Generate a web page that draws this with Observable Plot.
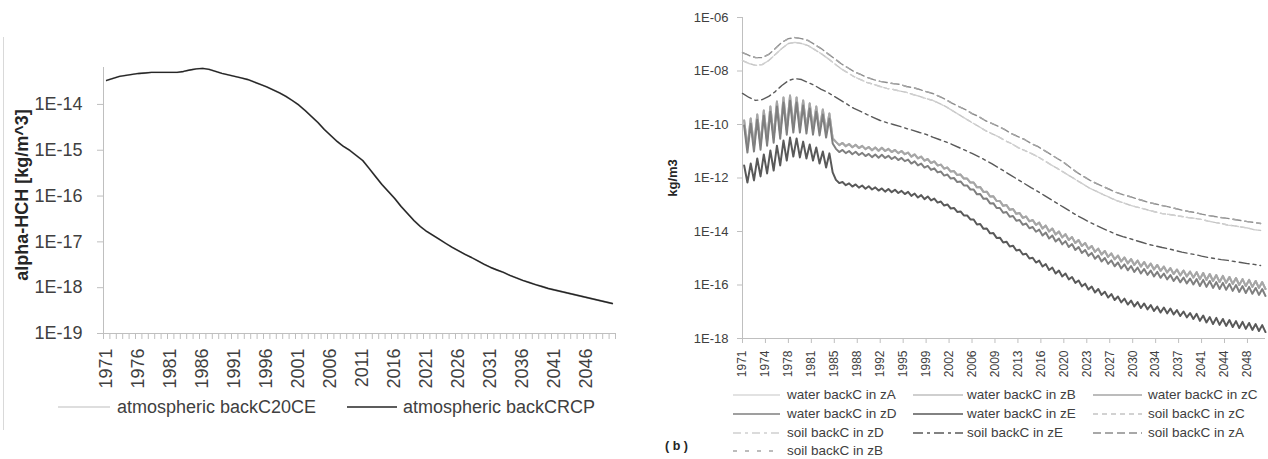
<!DOCTYPE html>
<html><head><meta charset="utf-8">
<script src="https://cdn.jsdelivr.net/npm/d3@7"></script>
<script src="https://cdn.jsdelivr.net/npm/@observablehq/plot@0.6"></script>
<style>
html,body{margin:0;padding:0;background:#fff;}
#root{position:relative;width:1268px;height:459px;overflow:hidden;font-family:"Liberation Sans",Arial,sans-serif;color:#404040;background:#fff;}
.abs{position:absolute;}
</style></head><body><div id="root"></div>
<script>
// ---------- DATA ----------
const years = [1971,1972,1973,1974,1975,1976,1977,1978,1979,1980,1981,1982,1983,1984,1985,1986,1987,1988,1989,1990,
1991,1992,1993,1994,1995,1996,1997,1998,1999,2000,2001,2002,2003,2004,2005,2006,2007,2008,2009,2010,
2011,2012,2013,2014,2015,2016,2017,2018,2019,2020,2021,2022,2023,2024,2025,2026,2027,2028,2029,2030,
2031,2032,2033,2034,2035,2036,2037,2038,2039,2040,2041,2042,2043,2044,2045,2046,2047,2048,2049,2050];

// panel (a): alpha-HCH, kg/m^3
const atmCRCP = [3.34e-14,3.70e-14,4.09e-14,4.30e-14,4.52e-14,4.75e-14,4.87e-14,5.00e-14,5.00e-14,5.00e-14,
5.00e-14,5.00e-14,5.25e-14,5.66e-14,5.96e-14,6.11e-14,5.81e-14,5.25e-14,4.75e-14,4.41e-14,
4.09e-14,3.79e-14,3.51e-14,3.10e-14,2.73e-14,2.41e-14,2.07e-14,1.78e-14,1.50e-14,1.22e-14,
9.75e-15,7.40e-15,5.47e-15,4.05e-15,2.85e-15,2.11e-15,1.56e-15,1.21e-15,9.9e-16,7.70e-16,
5.99e-16,4.01e-16,2.68e-16,1.79e-16,1.26e-16,8.87e-17,5.93e-17,4.17e-17,2.93e-17,2.17e-17,
1.69e-17,1.38e-17,1.13e-17,9.23e-18,7.55e-18,6.33e-18,5.31e-18,4.56e-18,3.83e-18,3.21e-18,
2.76e-18,2.43e-18,2.15e-18,1.85e-18,1.63e-18,1.44e-18,1.30e-18,1.17e-18,1.06e-18,9.6e-19,
8.9e-19,8.26e-19,7.66e-19,7.11e-19,6.59e-19,6.11e-19,5.67e-19,5.26e-19,4.88e-19,4.52e-19];
// the 20CE run is indistinguishable from the RCP run in the picture
const atmC20CE = atmCRCP;
const seriesA = ["atmospheric backC20CE","atmospheric backCRCP"];
const xLabelsA = [1971,1976,1981,1986,1991,1996,2001,2006,2011,2016,2021,2026,2031,2036,2041,2046];
const yTicksA = [1e-19,1e-18,1e-17,1e-16,1e-15,1e-14];

// panel (b): log10 of kg/m3; water series oscillate yearly (annual high / low)
const waterUpperHi = [-9.85,-9.78,-9.63,-9.48,-9.33,-9.14,-8.99,-8.92,-8.99,-9.10,-9.21,-9.33,-9.44,-9.59,
-10.65,-10.69,-10.73,-10.76,-10.80,-10.84,-10.86,-10.87,-10.91,-10.95,-10.99,
-11.05,-11.12,-11.20,-11.29,-11.38,-11.50,-11.61,-11.74,-11.87,-12.02,
-12.17,-12.34,-12.51,-12.68,-12.86,-13.01,-13.16,-13.31,-13.44,-13.57,
-13.67,-13.78,-13.89,-14.00,-14.10,-14.21,-14.32,-14.43,-14.54,-14.64,
-14.73,-14.82,-14.90,-14.97,-15.03,-15.09,-15.14,-15.20,-15.25,-15.31,
-15.37,-15.42,-15.46,-15.50,-15.52,-15.55,-15.59,-15.63,-15.66,-15.70,
-15.74,-15.78,-15.81,-15.85,-15.89];
const waterUpperLo = [-10.86,-10.82,-10.75,-10.60,-10.49,-10.34,-10.19,-10.11,-10.11,-10.15,-10.19,-10.22,-10.30,-10.52,
-10.77,-10.81,-10.85,-10.88,-10.92,-10.96,-10.98,-10.99,-11.03,-11.07,-11.11,
-11.20,-11.27,-11.35,-11.44,-11.53,-11.65,-11.76,-11.89,-12.02,-12.17,
-12.35,-12.52,-12.69,-12.86,-13.04,-13.19,-13.34,-13.49,-13.62,-13.75,
-13.89,-14.00,-14.11,-14.22,-14.32,-14.43,-14.54,-14.65,-14.76,-14.86,
-14.95,-15.04,-15.12,-15.19,-15.25,-15.31,-15.36,-15.42,-15.47,-15.53,
-15.59,-15.64,-15.68,-15.72,-15.78,-15.81,-15.85,-15.89,-15.92,-15.96,
-16.00,-16.04,-16.07,-16.11,-16.15];
const waterZDHi = [-10.04,-9.97,-9.82,-9.67,-9.52,-9.33,-9.18,-9.11,-9.18,-9.29,-9.40,-9.52,-9.63,-9.78,
-10.91,-10.95,-10.99,-11.02,-11.06,-11.10,-11.12,-11.13,-11.17,-11.21,-11.25,
-11.31,-11.38,-11.46,-11.55,-11.64,-11.76,-11.87,-12.00,-12.13,-12.28,
-12.43,-12.60,-12.77,-12.94,-13.12,-13.27,-13.42,-13.57,-13.70,-13.83,
-13.93,-14.04,-14.15,-14.26,-14.36,-14.47,-14.58,-14.69,-14.80,-14.90,
-14.99,-15.08,-15.16,-15.23,-15.29,-15.35,-15.40,-15.46,-15.51,-15.57,
-15.63,-15.68,-15.72,-15.76,-15.78,-15.81,-15.85,-15.89,-15.92,-15.96,
-16.00,-16.04,-16.07,-16.11,-16.15];
const waterZDLo = [-11.05,-11.01,-10.94,-10.79,-10.68,-10.53,-10.38,-10.30,-10.30,-10.34,-10.38,-10.41,-10.49,-10.71,
-11.03,-11.07,-11.11,-11.14,-11.18,-11.22,-11.24,-11.25,-11.29,-11.33,-11.37,
-11.46,-11.53,-11.61,-11.70,-11.79,-11.91,-12.02,-12.15,-12.28,-12.43,
-12.61,-12.78,-12.95,-13.12,-13.30,-13.45,-13.60,-13.75,-13.88,-14.01,
-14.15,-14.26,-14.37,-14.48,-14.58,-14.69,-14.80,-14.91,-15.02,-15.12,
-15.21,-15.30,-15.38,-15.45,-15.51,-15.57,-15.62,-15.68,-15.73,-15.79,
-15.85,-15.90,-15.94,-15.98,-16.04,-16.07,-16.11,-16.15,-16.18,-16.22,
-16.26,-16.30,-16.33,-16.37,-16.41];
const waterZEHi = [-11.53,-11.46,-11.27,-11.12,-10.97,-10.79,-10.60,-10.49,-10.52,-10.64,-10.75,-10.86,-11.01,-11.08,
-12.07,-12.15,-12.20,-12.24,-12.28,-12.31,-12.35,-12.39,-12.41,-12.44,-12.48,
-12.52,-12.58,-12.64,-12.69,-12.77,-12.88,-12.99,-13.12,-13.25,-13.40,
-13.55,-13.72,-13.89,-14.06,-14.23,-14.38,-14.53,-14.68,-14.83,-14.98,
-15.09,-15.22,-15.35,-15.46,-15.57,-15.70,-15.83,-15.95,-16.06,-16.15,
-16.25,-16.34,-16.43,-16.51,-16.58,-16.64,-16.69,-16.75,-16.81,-16.84,
-16.88,-16.94,-16.99,-17.05,-17.08,-17.14,-17.20,-17.23,-17.27,-17.31,
-17.35,-17.38,-17.42,-17.46,-17.50];
const waterZELo = [-12.17,-12.09,-11.94,-11.83,-11.72,-11.53,-11.35,-11.20,-11.23,-11.27,-11.35,-11.46,-11.61,-11.79,
-12.19,-12.27,-12.32,-12.36,-12.40,-12.43,-12.47,-12.51,-12.53,-12.56,-12.60,
-12.67,-12.73,-12.79,-12.84,-12.92,-13.03,-13.14,-13.27,-13.40,-13.55,
-13.74,-13.90,-14.07,-14.24,-14.41,-14.56,-14.71,-14.86,-15.01,-15.16,
-15.31,-15.44,-15.57,-15.68,-15.79,-15.92,-16.05,-16.17,-16.28,-16.37,
-16.47,-16.56,-16.65,-16.73,-16.80,-16.86,-16.91,-16.97,-17.03,-17.06,
-17.10,-17.16,-17.21,-17.27,-17.34,-17.40,-17.46,-17.49,-17.53,-17.57,
-17.61,-17.64,-17.68,-17.72,-17.76];
const soilTop = [-7.31,-7.42,-7.50,-7.50,-7.38,-7.16,-6.93,-6.79,-6.75,-6.79,
-6.86,-7.01,-7.16,-7.35,-7.53,-7.72,-7.87,-8.02,-8.13,-8.24,
-8.32,-8.39,-8.43,-8.47,-8.50,-8.58,-8.62,-8.69,-8.77,-8.84,
-8.95,-9.07,-9.21,-9.33,-9.44,-9.59,-9.70,-9.85,-9.96,-10.07,
-10.19,-10.34,-10.45,-10.56,-10.71,-10.82,-10.97,-11.12,-11.27,-11.42,
-11.61,-11.79,-11.94,-12.09,-12.21,-12.32,-12.43,-12.54,-12.62,-12.69,
-12.77,-12.84,-12.92,-12.97,-13.03,-13.08,-13.14,-13.20,-13.25,-13.29,
-13.35,-13.40,-13.44,-13.48,-13.51,-13.55,-13.59,-13.63,-13.66,-13.70];
const soilMid = [-7.61,-7.72,-7.79,-7.76,-7.61,-7.38,-7.16,-6.97,-6.93,-6.97,
-7.05,-7.20,-7.35,-7.53,-7.72,-7.91,-8.06,-8.21,-8.32,-8.43,
-8.50,-8.58,-8.65,-8.69,-8.75,-8.80,-8.88,-8.95,-9.03,-9.10,
-9.21,-9.33,-9.48,-9.63,-9.78,-9.93,-10.07,-10.22,-10.34,-10.45,
-10.60,-10.71,-10.86,-10.97,-11.08,-11.20,-11.35,-11.50,-11.64,-11.79,
-11.94,-12.09,-12.24,-12.39,-12.50,-12.62,-12.73,-12.84,-12.92,-13.01,
-13.08,-13.14,-13.21,-13.27,-13.33,-13.36,-13.40,-13.44,-13.48,-13.51,
-13.55,-13.61,-13.66,-13.70,-13.76,-13.79,-13.83,-13.87,-13.93,-13.96];
const soilZE = [-8.84,-8.99,-9.10,-9.07,-8.95,-8.77,-8.54,-8.36,-8.28,-8.32,
-8.43,-8.54,-8.69,-8.80,-8.95,-9.10,-9.25,-9.40,-9.51,-9.63,
-9.74,-9.85,-9.93,-10.00,-10.07,-10.15,-10.22,-10.30,-10.37,-10.47,
-10.56,-10.65,-10.75,-10.86,-10.97,-11.08,-11.20,-11.33,-11.46,-11.61,
-11.76,-11.91,-12.06,-12.21,-12.36,-12.50,-12.65,-12.80,-12.95,-13.10,
-13.25,-13.40,-13.53,-13.66,-13.78,-13.89,-14.00,-14.11,-14.19,-14.26,
-14.34,-14.41,-14.49,-14.54,-14.60,-14.65,-14.71,-14.77,-14.82,-14.86,
-14.92,-14.97,-15.01,-15.05,-15.08,-15.12,-15.16,-15.20,-15.23,-15.27];
const xTicksB = [1971,1974.5,1978,1981.5,1985,1988.5,1992,1995.5,1999,2002.5,2006,2009.5,2013,2016.5,2020,2023.5,2027,2030.5,2034,2037.5,2041,2044.5,2048];
const xLabelsB = ["1971","1974","1978","1981","1985","1988","1992","1995","1999","2002","2006","2009","2013","2016","2020","2023","2027","2030","2034","2037","2041","2044","2048"];
const yTicksB = [1e-18,1e-16,1e-14,1e-12,1e-10,1e-8,1e-6];
const seriesB = ["water backC in zA","water backC in zB","water backC in zC","water backC in zD","water backC in zE",
  "soil backC in zC","soil backC in zD","soil backC in zE","soil backC in zA","soil backC in zB"];

// ---------- STYLES ----------
const FONT = '"Liberation Sans", Arial, sans-serif';
const TXT = "#404040", AX = "#bfbfbf";
const stylesA = {
  "atmospheric backC20CE": {stroke: "#bdbdbd", w: 1.9, lw: 1, dash: null},
  "atmospheric backCRCP": {stroke: "#262626", w: 1.4, lw: 1.4, dash: null}
};
const stylesB = {
  "water backC in zA": {stroke: "#d9d9d9", w: 2, dash: null},
  "water backC in zB": {stroke: "#bfbfbf", w: 2, dash: null},
  "water backC in zC": {stroke: "#a6a6a6", w: 2, dash: null},
  "water backC in zD": {stroke: "#7f7f7f", w: 2, dash: null},
  "water backC in zE": {stroke: "#595959", w: 2, dash: null},
  "soil backC in zC": {stroke: "#c4c4c4", w: 1.4, dash: "5,4"},
  "soil backC in zD": {stroke: "#d0d0d0", w: 1.4, dash: "8,4,3,4"},
  "soil backC in zE": {stroke: "#595959", w: 1.4, dash: "10,4,3,4"},
  "soil backC in zA": {stroke: "#8c8c8c", w: 1.4, dash: "8,4"},
  "soil backC in zB": {stroke: "#a6a6a6", w: 1.4, dash: "4,8"}
};

const fmtE = d => { const e = Math.round(Math.log10(d)); return "1E" + (e < 0 ? "-" : "+") + String(Math.abs(e)).padStart(2, "0"); };
const root = document.getElementById("root");

// ---------- PANEL A ----------
const tableA = [];
years.forEach((y, i) => {
  tableA.push({s: seriesA[0], x: y, v: atmC20CE[i]});
  tableA.push({s: seriesA[1], x: y, v: atmCRCP[i]});
});
const catBounds = years.map(y => y - 0.5).concat([years[years.length - 1] + 0.5]);
const plotA = Plot.plot({
  width: 630, height: 395, marginTop: 67, marginLeft: 103, marginRight: 15, marginBottom: 62,
  style: {fontFamily: FONT, fontSize: "18px", color: TXT, background: "transparent", overflow: "visible"},
  x: {type: "linear", domain: [catBounds[0], catBounds[catBounds.length - 1]], label: null},
  y: {type: "log", domain: [1e-19, 6.4e-14], label: null},
  marks: [
    Plot.ruleY([1e-19], {stroke: AX}),
    Plot.ruleX([catBounds[0]], {stroke: AX}),
    Plot.axisX({ticks: catBounds, tickSize: 6, tickFormat: () => "", stroke: AX, label: null}),
    Plot.axisX({ticks: xLabelsA, tickSize: 0, tickPadding: 15, tickRotate: -90, tickFormat: d => String(d), fontSize: 18, fill: TXT, label: null}),
    Plot.axisY({ticks: yTicksA, tickSize: 6, tickPadding: 15, tickFormat: fmtE, fontSize: 18, stroke: AX, fill: TXT, label: null}),
    ...seriesA.map(s => Plot.line(tableA.filter(d => d.s === s), {x: "x", y: "v", stroke: stylesA[s].stroke, strokeWidth: stylesA[s].w}))
  ]
});
const wrapA = document.createElement("div");
wrapA.className = "abs"; wrapA.style.left = "0px"; wrapA.style.top = "0px";
wrapA.appendChild(plotA);
root.appendChild(wrapA);

// ---------- PANEL B ----------
const tableB = [];
function pushWater(name, hi, lo) {
  years.forEach((y, i) => {
    tableB.push({s: name, x: y + 0.25, v: Math.pow(10, hi[i])});
    tableB.push({s: name, x: y + 0.75, v: Math.pow(10, lo[i])});
  });
}
function pushSoil(name, vals) {
  years.forEach((y, i) => tableB.push({s: name, x: y, v: Math.pow(10, vals[i])}));
}
pushWater(seriesB[0], waterUpperHi, waterUpperLo);
pushWater(seriesB[1], waterUpperHi, waterUpperLo);
pushWater(seriesB[2], waterUpperHi, waterUpperLo);
pushWater(seriesB[3], waterZDHi, waterZDLo);
pushWater(seriesB[4], waterZEHi, waterZELo);
pushSoil(seriesB[5], soilMid);
pushSoil(seriesB[6], soilMid);
pushSoil(seriesB[7], soilZE);
pushSoil(seriesB[8], soilTop);
pushSoil(seriesB[9], soilTop);

const labMap = new Map(xTicksB.map((t, i) => [t, xLabelsB[i]]));
const plotB = Plot.plot({
  width: 628, height: 385, marginTop: 17, marginLeft: 102, marginRight: 3, marginBottom: 47,
  style: {fontFamily: FONT, fontSize: "13px", color: TXT, background: "transparent", overflow: "visible"},
  x: {type: "linear", domain: [1971, 2050.75], label: null},
  y: {type: "log", domain: [1e-18, 1e-6], label: null},
  marks: [
    Plot.ruleY([1e-18], {stroke: AX}),
    Plot.ruleX([1971], {stroke: AX}),
    Plot.axisX({ticks: xTicksB, tickSize: 5, tickPadding: 7, tickRotate: -90, tickFormat: d => labMap.get(d), fontSize: 12, stroke: AX, fill: TXT, label: null}),
    Plot.axisY({ticks: yTicksB, tickSize: 5, tickPadding: 9, tickFormat: fmtE, fontSize: 13, stroke: AX, fill: TXT, label: null}),
    ...seriesB.map(s => Plot.line(tableB.filter(d => d.s === s), {
      x: "x", y: "v", stroke: stylesB[s].stroke, strokeWidth: stylesB[s].w,
      strokeDasharray: stylesB[s].dash || undefined
    }))
  ]
});
const wrapB = document.createElement("div");
wrapB.className = "abs"; wrapB.style.left = "640px"; wrapB.style.top = "0px";
wrapB.appendChild(plotB);
root.appendChild(wrapB);

// ---------- DECORATION / LABELS / LEGENDS ----------
function addDiv(html, css) {
  const d = document.createElement("div");
  d.innerHTML = html;
  d.style.cssText = "position:absolute;" + css;
  root.appendChild(d);
  return d;
}
// left frame line
addDiv("", "left:3px;top:37px;width:1px;height:393px;background:#d9d9d9;");
// y labels
addDiv("alpha-HCH [kg/m^3]", "left:22px;top:195px;transform:translate(-50%,-50%) rotate(-90deg);font-weight:bold;font-size:18px;white-space:nowrap;color:#262626;line-height:1;");
addDiv("kg/m3", "left:672px;top:178px;transform:translate(-50%,-50%) rotate(-90deg);font-weight:bold;font-size:13px;white-space:nowrap;color:#262626;line-height:1;");
addDiv("( b )", "left:665px;top:446px;transform:translateY(-50%);font-weight:bold;font-size:12.5px;white-space:pre;color:#262626;line-height:1;");

function legendItem(st, label, x1, x2, xt, y, fs) {
  const w = x2 - x1;
  addDiv(`<svg width="${w}" height="8" style="display:block"><line x1="0" x2="${w}" y1="4" y2="4" stroke="${st.stroke}" stroke-width="${st.lw}" ${st.dash ? `stroke-dasharray="${st.dash}"` : ""}/></svg>`,
    `left:${x1}px;top:${y - 4}px;`);
  addDiv(label, `left:${xt}px;top:${y}px;transform:translateY(-50%);font-size:${fs}px;white-space:nowrap;color:${TXT};line-height:1;`);
}
legendItem(stylesA[seriesA[0]], seriesA[0], 58, 110, 117, 407, 18);
legendItem(stylesA[seriesA[1]], seriesA[1], 347, 397, 403, 407, 18);

const colsB = [[733, 780, 787], [913, 963, 967], [1093, 1142, 1148]];
const rowsB = [395, 414, 433, 451];
seriesB.forEach((s, i) => {
  const c = colsB[i % 3], r = rowsB[Math.floor(i / 3)];
  legendItem({...stylesB[s], lw: Math.min(stylesB[s].w, 1.6)}, s, c[0], c[1], c[2], r, 13.5);
});
</script></body></html>
